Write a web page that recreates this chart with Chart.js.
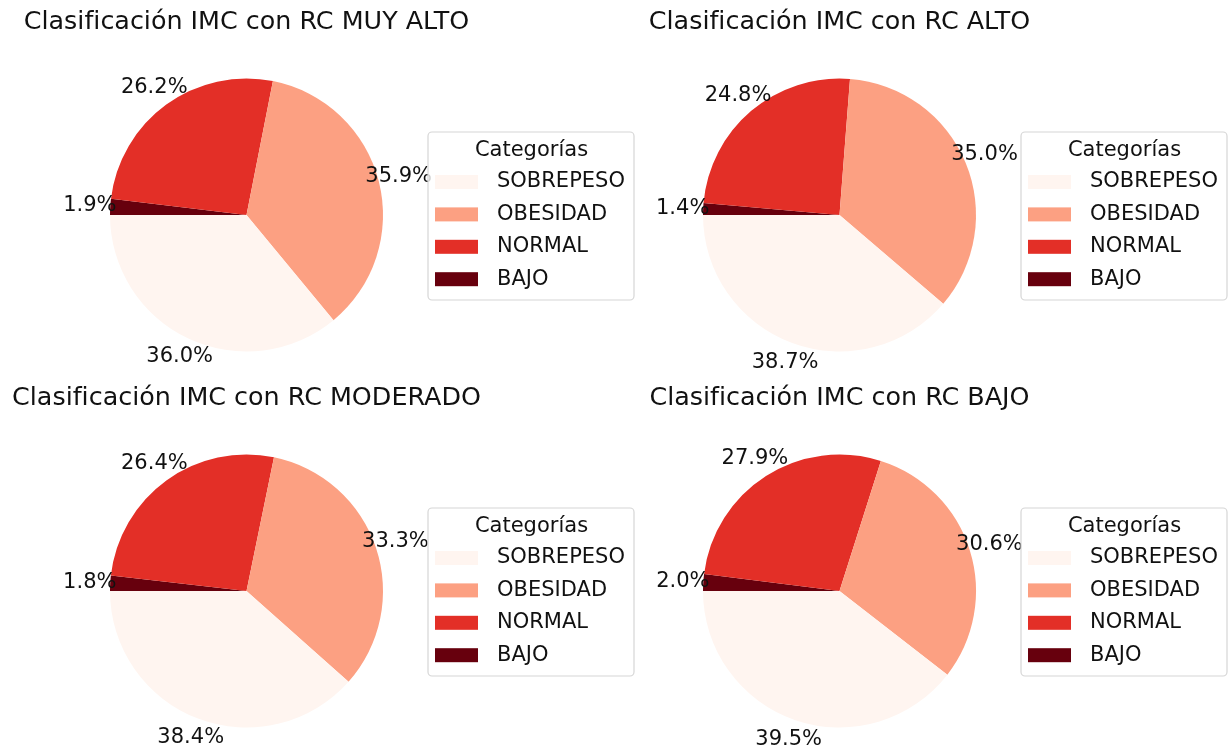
<!DOCTYPE html>
<html lang="es">
<head>
<meta charset="utf-8">
<title>Clasificación IMC por riesgo cardiovascular</title>
<script src="https://cdn.jsdelivr.net/npm/chart.js@4.4.1/dist/chart.umd.min.js"></script>
<style>
  html, body { margin: 0; padding: 0; background: #ffffff; overflow: hidden; }
  #wrap { position: relative; width: 1231px; height: 750px; }
  .panel { position: absolute; width: 638px; height: 376px; }
  .panel canvas { display: block; }
</style>
</head>
<body>
<div id="wrap">
  <div class="panel" style="left:0;top:0"><canvas id="c0"></canvas></div>
  <div class="panel" style="left:593px;top:0"><canvas id="c1"></canvas></div>
  <div class="panel" style="left:0;top:376px"><canvas id="c2"></canvas></div>
  <div class="panel" style="left:593px;top:376px"><canvas id="c3"></canvas></div>
</div>
<script>
// IMC categories, in legend order
const categories = ['SOBREPESO', 'OBESIDAD', 'NORMAL', 'BAJO'];
// Reds colormap sampled at 0, 1/3, 2/3, 1
const categoryColors = ['#fff5f0', '#fca082', '#e32f27', '#67000d'];

// Percentage share of each IMC category for every RC group
const rcMuyAlto  = [36.0, 35.9, 26.2, 1.9];
const rcAlto     = [38.7, 35.0, 24.8, 1.4];
const rcModerado = [38.4, 33.3, 26.4, 1.8];
const rcBajo     = [39.5, 30.6, 27.9, 2.0];

const panelTitles = [
  'Clasificación IMC con RC MUY ALTO',
  'Clasificación IMC con RC ALTO',
  'Clasificación IMC con RC MODERADO',
  'Clasificación IMC con RC BAJO'
];
const legendTitle = 'Categorías';
const panelSeries = [rcMuyAlto, rcAlto, rcModerado, rcBajo];

const FONT = '"DejaVu Sans", "Liberation Sans", sans-serif';

// Slices are laid out counter-clockwise from 9 o'clock, so the
// dataset is fed reversed to Chart.js (which sweeps clockwise).
function reversed(a) { return a.slice().reverse(); }

const decorPlugin = {
  id: 'pieDecor',
  afterDraw(chart, args, opts) {
    const ctx = chart.ctx;
    const meta = chart.getDatasetMeta(0);
    const ds = chart.data.datasets[0];
    const area = chart.chartArea;
    const cx = (area.left + area.right) / 2;

    ctx.save();
    // title
    ctx.fillStyle = '#111111';
    ctx.font = '25.4px ' + FONT;
    ctx.textAlign = 'center';
    ctx.textBaseline = 'middle';
    ctx.fillText(opts.title, cx, 22.5);

    // percentage labels outside each wedge
    ctx.font = '21px ' + FONT;
    meta.data.forEach((arc, i) => {
      const p = arc.getProps(['x', 'y', 'startAngle', 'endAngle', 'outerRadius'], true);
      const mid = (p.startAngle + p.endAngle) / 2;
      const d = p.outerRadius * 1.15;
      ctx.fillText(ds.data[i].toFixed(1) + '%', p.x + Math.cos(mid) * d, p.y + Math.sin(mid) * d);
    });

    // legend frame
    const lx = 428, ly = 132, lw = 206, lh = 168, rr = 4;
    ctx.beginPath();
    ctx.moveTo(lx + rr, ly);
    ctx.lineTo(lx + lw - rr, ly);
    ctx.arcTo(lx + lw, ly, lx + lw, ly + rr, rr);
    ctx.lineTo(lx + lw, ly + lh - rr);
    ctx.arcTo(lx + lw, ly + lh, lx + lw - rr, ly + lh, rr);
    ctx.lineTo(lx + rr, ly + lh);
    ctx.arcTo(lx, ly + lh, lx, ly + lh - rr, rr);
    ctx.lineTo(lx, ly + rr);
    ctx.arcTo(lx, ly, lx + rr, ly, rr);
    ctx.closePath();
    ctx.fillStyle = 'rgba(255,255,255,0.8)';
    ctx.fill();
    ctx.lineWidth = 1.2;
    ctx.strokeStyle = '#d6d6d6';
    ctx.stroke();

    // legend title and entries
    ctx.fillStyle = '#111111';
    ctx.textAlign = 'center';
    ctx.fillText(opts.legendTitle, lx + lw / 2 + 0.5, ly + 19);
    ctx.textAlign = 'left';
    opts.labels.forEach((lab, i) => {
      const yc = ly + 50 + i * 32.4;
      ctx.fillStyle = opts.colors[i];
      ctx.fillRect(lx + 7, yc - 7, 43, 14);
      ctx.fillStyle = '#111111';
      ctx.fillText(lab, lx + 69, yc);
    });
    ctx.restore();
  }
};

panelSeries.forEach((series, k) => {
  new Chart(document.getElementById('c' + k), {
    type: 'pie',
    data: {
      labels: reversed(categories),
      datasets: [{
        data: reversed(series),
        backgroundColor: reversed(categoryColors),
        borderWidth: 0,
        hoverOffset: 0,
        offset: 0
      }]
    },
    options: {
      responsive: true,
      maintainAspectRatio: false,
      animation: false,
      events: [],
      rotation: -90,
      layout: { padding: { left: 110, top: 78.5, right: 255, bottom: 24.5 } },
      plugins: {
        legend: { display: false },
        title: { display: false },
        tooltip: { enabled: false },
        pieDecor: {
          title: panelTitles[k],
          legendTitle: legendTitle,
          labels: categories,
          colors: categoryColors
        }
      }
    },
    plugins: [decorPlugin]
  });
});
</script>
</body>
</html>
